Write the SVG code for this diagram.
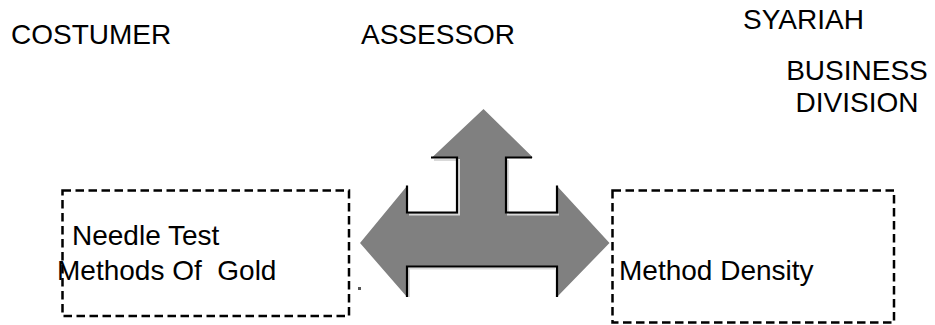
<svg xmlns="http://www.w3.org/2000/svg" width="935" height="325" viewBox="0 0 935 325">
  <style>
    .label { font-family: "Liberation Sans", Arial, sans-serif; font-size: 28px; fill: #000; }
    .box { fill: none; stroke: #000; stroke-width: 2.5; stroke-dasharray: 8.5 4.5; }
    .bevel { fill: none; stroke: #000; stroke-width: 2.2; }
    .glint { fill: none; stroke: #d9d9d9; stroke-width: 2; }
  </style>
  <rect width="935" height="325" fill="#fff"/>

  <!-- column headers -->
  <g id="costumer">
    <text class="label" x="11" y="44">COSTUMER</text>
  </g>
  <g id="assessor">
    <text class="label" x="361" y="44">ASSESSOR</text>
  </g>
  <g id="syariah-business-division">
    <text class="label" x="743" y="29">SYARIAH</text>
    <text class="label" x="857" y="80" text-anchor="middle">BUSINESS</text>
    <text class="label" x="857" y="112" text-anchor="middle">DIVISION</text>
  </g>

  <!-- three-way block arrow -->
  <g id="connectors">
    <polygon fill="#808080" points="483.5,109 533,157.5 506,157.5 506,212.5 557,212.5 557,186 609.5,243 557,297 557,266.5 407,266.5 407,297 360,243 407,186 407,212.5 457,212.5 457,157.5 432,157.5"/>
    <polyline class="glint" points="434,160 459,160 459,214.5 409,214.5"/>
    <polyline class="glint" points="508,160 508,214.5 559,214.5"/>
    <polyline class="glint" points="409,297 409,268.5 555,268.5"/>
    <polyline class="bevel" points="431,157.5 457,157.5 457,212.5 407,212.5 407,185.5"/>
    <polyline class="bevel" points="532,157.5 506,157.5 506,212.5 557,212.5 557,185.5"/>
    <polyline class="bevel" points="407,297 407,266.5 557,266.5 557,297"/>
    <rect x="358" y="287" width="3" height="3" fill="#555"/>
  </g>

  <!-- method boxes -->
  <g id="needle-test">
    <rect class="box" x="62.5" y="190.5" width="286.5" height="125.5"/>
    <text class="label" x="72" y="245">Needle Test</text>
    <text class="label" x="57" y="280" xml:space="preserve">Methods Of  Gold</text>
  </g>
  <g id="method-density">
    <rect class="box" x="612.5" y="190.5" width="281.5" height="132"/>
    <text class="label" x="619" y="279.5">Method Density</text>
  </g>
</svg>
